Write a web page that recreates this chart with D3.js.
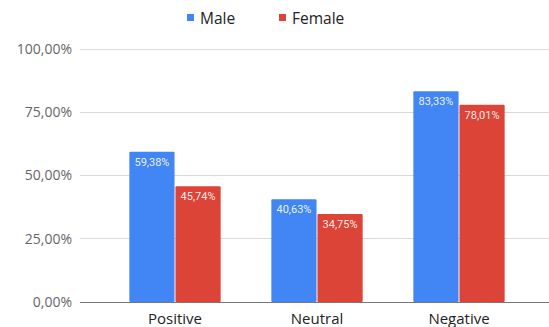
<!DOCTYPE html>
<html>
<head>
<meta charset="utf-8">
<script src="https://cdn.jsdelivr.net/npm/d3@7"></script>
<style>
  body { margin: 0; background: #fff; }
  svg { display: block; }
</style>
</head>
<body>
<div id="chart"></div>
<script>
// values
const categories = ["Positive", "Neutral", "Negative"];
const seriesNames = ["Male", "Female"];
const maleValues = [59.38, 40.63, 83.33];
const femaleValues = [45.74, 34.75, 78.01];
const yTicks = [0, 25, 50, 75, 100];

const seriesColors = ["#4285F4", "#DB4437"];
const width = 549, height = 327;

const fmt = v => v.toFixed(2).replace(".", ",") + "%";

const svg = d3.select("#chart").append("svg")
  .attr("width", width)
  .attr("height", height);

const y = d3.scaleLinear().domain([0, 100]).range([302, 49]);

const x0 = d3.scaleBand()
  .domain(categories)
  .range([104, 530])
  .paddingInner(0.357)
  .paddingOuter(0.1785);

const x1 = d3.scaleBand()
  .domain(seriesNames)
  .range([0, x0.bandwidth()])
  .paddingInner(0.02);

// gridlines
svg.append("g")
  .selectAll("line")
  .data(yTicks.filter(t => t > 0))
  .enter().append("line")
  .attr("x1", 80).attr("x2", 549)
  .attr("y1", d => y(d)).attr("y2", d => y(d))
  .attr("stroke", "#d9d9d9")
  .attr("stroke-width", 1)
  .attr("shape-rendering", "crispEdges");

// y axis labels
const yAxis = d3.axisLeft(y).tickValues(yTicks).tickFormat(fmt).tickSize(0).tickPadding(0);
const yg = svg.append("g").attr("transform", "translate(72,0)").call(yAxis);
yg.select(".domain").remove();
yg.selectAll("text")
  .attr("fill", "#666")
  .style("font-family", "'Open Sans', sans-serif")
  .style("font-size", "14px");

// bars
const rows = categories.map((c, i) => ({cat: c, values: [maleValues[i], femaleValues[i]]}));

const groups = svg.append("g")
  .selectAll("g")
  .data(rows)
  .enter().append("g")
  .attr("transform", d => "translate(" + x0(d.cat) + ",0)");

const bars = groups.selectAll("g")
  .data(d => d.values.map((v, j) => ({name: seriesNames[j], value: v, idx: j})))
  .enter().append("g");

bars.append("rect")
  .attr("x", d => x1(d.name))
  .attr("y", d => y(d.value))
  .attr("width", x1.bandwidth())
  .attr("height", d => y(0) - y(d.value))
  .attr("rx", 1)
  .attr("fill", d => seriesColors[d.idx]);

bars.append("text")
  .attr("x", d => x1(d.name) + x1.bandwidth() / 2)
  .attr("y", d => y(d.value) + 14)
  .attr("text-anchor", "middle")
  .attr("fill", "#fff")
  .attr("fill-opacity", 0.92)
  .style("font-family", "Roboto, sans-serif")
  .style("font-size", "11px")
  .text(d => fmt(d.value));

// baseline
svg.append("line")
  .attr("x1", 80).attr("x2", 549)
  .attr("y1", y(0)).attr("y2", y(0))
  .attr("stroke", "#777")
  .attr("shape-rendering", "crispEdges");

// category labels
const xAxis = d3.axisBottom(x0).tickSize(0).tickPadding(0);
const xg = svg.append("g").attr("transform", "translate(0,324)").call(xAxis);
xg.select(".domain").remove();
xg.selectAll("text")
  .attr("fill", "#222")
  .attr("dy", "0")
  .style("font-family", "'Open Sans', sans-serif")
  .style("font-size", "15px");

// legend
const legendX = [187, 279];
const legend = svg.append("g")
  .selectAll("g")
  .data(seriesNames)
  .enter().append("g")
  .attr("transform", (d, i) => "translate(" + legendX[i] + ",0)");

legend.append("rect")
  .attr("x", 0).attr("y", 14)
  .attr("width", 7).attr("height", 7)
  .attr("fill", (d, i) => seriesColors[i]);

legend.append("text")
  .attr("x", 13).attr("y", 24)
  .attr("fill", "#222")
  .style("font-family", "'Open Sans', sans-serif")
  .style("font-size", "15.5px")
  .text(d => d);
</script>
</body>
</html>
